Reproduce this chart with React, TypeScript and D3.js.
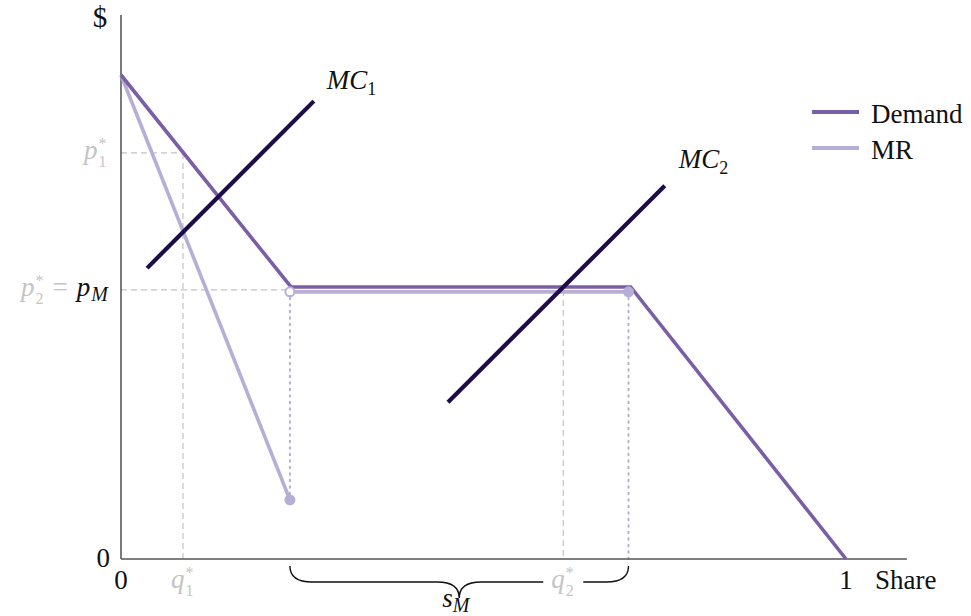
import React from "react";
import * as d3 from "d3";

// ---- data ----
const demandQ = [0, 0.2345, 0.703, 1];
const demandP = [1, 0.562, 0.562, 0];
const mrQ = [0, 0.233];
const mrP = [1, 0.122];
const mrFlatQ = [0.233, 0.7];
const mrFlatP = [0.552, 0.552];
const mc1Q = [0.036, 0.266];
const mc1P = [0.601, 0.946];
const mc2Q = [0.451, 0.75];
const mc2P = [0.324, 0.771];
const p1Star = 0.839;
const q1Star = 0.0855;
const pM = 0.556;
const q2Star = 0.61;
const xTicks = ["0", "1"];
const legendLabels = ["Demand", "MR"];

const W = 971;
const H = 616;
const COL_DEMAND = "#7a5fa6";
const COL_MR = "#b6aed7";
const COL_MC = "#1e0c4a";
const COL_GRAY = "#c4c4c4";
const FONT = "'Liberation Serif', 'Times New Roman', serif";

const x = d3.scaleLinear().domain([0, 1]).range([121, 846]);
const y = d3.scaleLinear().domain([0, 1]).range([559, 75]);

const zip = (a: number[], b: number[]) => a.map((v, i) => [v, b[i]] as [number, number]);
const line = d3
  .line<[number, number]>()
  .x((d) => x(d[0]))
  .y((d) => y(d[1]));

function brace(x0: number, x1: number, y0: number, rx: number, ry: number) {
  const m = (x0 + x1) / 2;
  const p = d3.path();
  p.moveTo(x0, y0);
  p.quadraticCurveTo(x0, y0 + ry, x0 + rx, y0 + ry);
  p.lineTo(m - rx, y0 + ry);
  p.quadraticCurveTo(m, y0 + ry, m, y0 + 2 * ry);
  p.quadraticCurveTo(m, y0 + ry, m + rx, y0 + ry);
  p.lineTo(x1 - rx, y0 + ry);
  p.quadraticCurveTo(x1, y0 + ry, x1, y0);
  return p.toString();
}

// variable with stacked superscript * and subscript
function Star({ x: tx, y: ty, v, sub, fill }: { x: number; y: number; v: string; sub: string; fill: string }) {
  return (
    <text x={tx} y={ty} fill={fill}>
      <tspan fontStyle="italic">{v}</tspan>
      <tspan fontSize={16} dx={1} dy={-10}>*</tspan>
      <tspan fontSize={16} dx={-8} dy={18}>{sub}</tspan>
    </text>
  );
}

export default function App() {
  const x0 = x(0);
  const y0 = y(0);
  const xEnd = x(1.084);
  const yTop = y(1.124);
  const braceMid = (x(mrFlatQ[0]) + x(mrFlatQ[1])) / 2;
  return (
    <svg
      width={W}
      height={H}
      style={{ position: "absolute", left: 0, top: 0, background: "#fff" }}
      fontFamily={FONT}
      fontSize={27}
    >
      {/* guide lines */}
      <g stroke={COL_GRAY} strokeWidth={1.2} strokeDasharray="6,4" fill="none">
        <line x1={x0} x2={x(q1Star)} y1={y(p1Star)} y2={y(p1Star)} />
        <line x1={x(q1Star)} x2={x(q1Star)} y1={y(p1Star)} y2={y0} />
        <line x1={x0} x2={x(mrFlatQ[0])} y1={y(pM)} y2={y(pM)} />
        <line x1={x(q2Star)} x2={x(q2Star)} y1={y(pM)} y2={y0} />
      </g>
      <g stroke={COL_MR} strokeWidth={2} strokeDasharray="1.5,5" strokeLinecap="round" fill="none">
        <line x1={x(mrFlatQ[0])} x2={x(mrFlatQ[0])} y1={y(mrFlatP[0]) + 6} y2={y(mrP[1])} />
        <line x1={x(mrFlatQ[1])} x2={x(mrFlatQ[1])} y1={y(mrFlatP[1]) + 6} y2={y0} />
      </g>

      {/* axes */}
      <line x1={x0} x2={x0} y1={yTop} y2={y0} stroke="#222" strokeWidth={1.2} />
      <line x1={x0} x2={xEnd} y1={y0} y2={y0} stroke="#555" strokeWidth={1.4} />

      {/* curves */}
      <path d={line(zip(mrQ, mrP)) || ""} stroke={COL_MR} strokeWidth={3.6} fill="none" />
      <path d={line(zip(mrFlatQ, mrFlatP)) || ""} stroke={COL_MR} strokeWidth={3.6} fill="none" />
      <path d={line(zip(demandQ, demandP)) || ""} stroke={COL_DEMAND} strokeWidth={3.6} fill="none" />
      <path d={line(zip(mc1Q, mc1P)) || ""} stroke={COL_MC} strokeWidth={4.2} fill="none" />
      <path d={line(zip(mc2Q, mc2P)) || ""} stroke={COL_MC} strokeWidth={4.2} fill="none" />

      {/* end points */}
      <circle cx={x(mrQ[1])} cy={y(mrP[1])} r={5.5} fill={COL_MR} />
      <circle cx={x(mrFlatQ[1])} cy={y(mrFlatP[1])} r={5.5} fill={COL_MR} />
      <circle cx={x(mrFlatQ[0])} cy={y(mrFlatP[0])} r={4.5} fill="#fff" stroke={COL_MR} strokeWidth={2} />

      {/* brace */}
      <path d={brace(x(mrFlatQ[0]), x(mrFlatQ[1]), y0 + 7, 22, 16)} stroke="#111" strokeWidth={1.4} fill="none" />
      <rect x={x(q2Star) - 20} y={y0 + 14} width={40} height={30} fill="#fff" />

      {/* axis labels */}
      <text x={x0 - 21} y={yTop + 12} textAnchor="middle" fill="#111" fontSize={29}>$</text>
      <text x={x0 - 11} y={y0 + 8} textAnchor="end" fill="#111">0</text>
      <text x={x(0)} y={y0 + 30} textAnchor="middle" fill="#111">{xTicks[0]}</text>
      <text x={x(1)} y={y0 + 30} textAnchor="middle" fill="#111">{xTicks[1]}</text>
      <text x={x(1) + 29} y={y0 + 30} fill="#111">Share</text>

      {/* p1* */}
      <Star x={x0 - 37} y={y(p1Star) + 6} v="p" sub="1" fill={COL_GRAY} />
      {/* p2* = pM */}
      <text x={x0 - 13} y={y(pM) + 6} textAnchor="end">
        <tspan fill={COL_GRAY} fontStyle="italic">p</tspan>
        <tspan fill={COL_GRAY} fontSize={16} dx={1} dy={-10}>*</tspan>
        <tspan fill={COL_GRAY} fontSize={16} dx={-8} dy={18}>2</tspan>
        <tspan fill={COL_GRAY} dx={9} dy={-8}>=</tspan>
        <tspan fill="#111" fontStyle="italic" dx={9}>p</tspan>
        <tspan fill="#111" fontStyle="italic" fontSize={20} dx={1} dy={5}>M</tspan>
      </text>

      {/* q labels */}
      <Star x={x(q1Star) - 12} y={y0 + 29} v="q" sub="1" fill={COL_GRAY} />
      <Star x={x(q2Star) - 12} y={y0 + 29} v="q" sub="2" fill={COL_GRAY} />
      <text x={braceMid - 17} y={y0 + 48} fill="#111" fontStyle="italic">
        s<tspan fontSize={20} dy={5}>M</tspan>
      </text>

      {/* MC labels */}
      <text x={x(mc1Q[1]) + 13} y={y(mc1P[1]) - 12} fill="#111">
        <tspan fontStyle="italic">MC</tspan>
        <tspan fontSize={18} dy={6}>1</tspan>
      </text>
      <text x={x(mc2Q[1]) + 14} y={y(mc2P[1]) - 18} fill="#111">
        <tspan fontStyle="italic">MC</tspan>
        <tspan fontSize={18} dy={6}>2</tspan>
      </text>

      {/* legend */}
      {legendLabels.map((lab, i) => (
        <g key={lab} transform={`translate(812, ${112 + i * 36})`}>
          <line x1={0} x2={47} y1={0} y2={0} stroke={i === 0 ? COL_DEMAND : COL_MR} strokeWidth={4} />
          <text x={59} y={11} fill="#111">{lab}</text>
        </g>
      ))}
    </svg>
  );
}
